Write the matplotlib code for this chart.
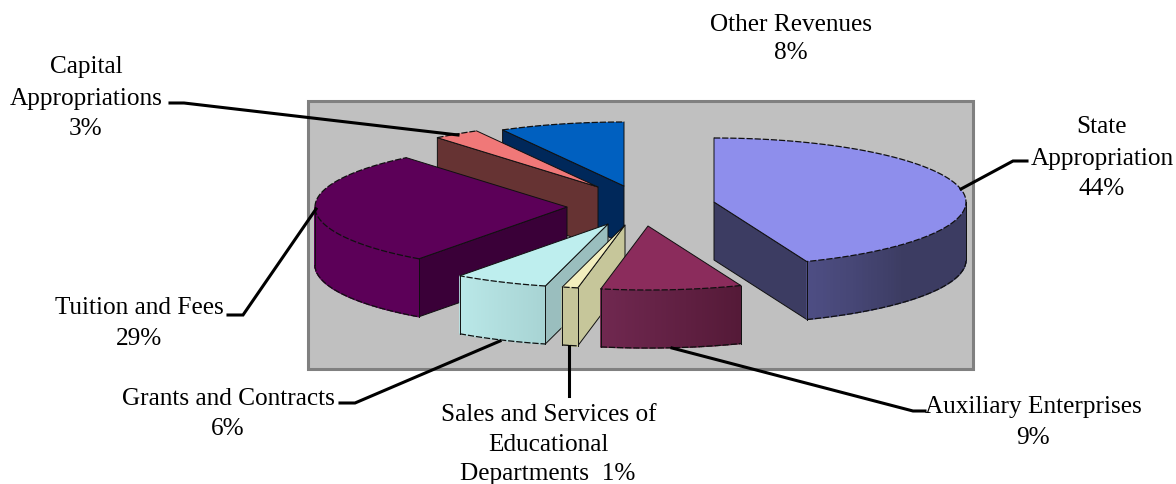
import numpy as np
import matplotlib
matplotlib.use('Agg')
import matplotlib.pyplot as plt
from matplotlib.patches import Polygon, Rectangle
from matplotlib.colors import to_rgb

plt.rcParams['font.family'] = ['Liberation Serif', 'DejaVu Serif']

# share of revenue in percent, clockwise from 12 o'clock
names = ['State Appropriation', 'Auxiliary Enterprises', 'Sales and Services', 'Grants and Contracts',
         'Tuition and Fees', 'Capital Appropriations', 'Other Revenues']
values = [44, 9, 1, 6, 29, 3, 8]

# where each exploded slice has its tip, in pixels
tips = [(714, 203), (648, 227), (625, 226), (608, 225), (567, 208), (598, 188), (624, 187)]

top_colors = ['#8E8EEC', '#8B2C5C', '#F2EEBE', '#BEEEEE', '#5C0058', '#F07878', '#0060C0']
side_colors = ['#3C3C62', '#551A38', '#C6C69A', '#9ABEBE', '#3A0038', '#663333', '#00285A']
arc_start = ['#4E4E84', '#702850', '#C6C69A', '#BAE8E8', '#5C0058', '#663333', '#00285A']
arc_end = ['#3C3C62', '#551A38', '#C6C69A', '#A8D4D4', '#5C0058', '#663333', '#00285A']

# back to front
draw_order = [6, 5, 4, 3, 2, 1, 0]

rx, ry, depth = 252, 64, 58

text_labels = [
    (791, 25, 'Other Revenues'), (791, 53, '8%'),
    (86, 67, 'Capital'), (86, 99, 'Appropriations'), (85, 129, '3%'),
    (1102, 127, 'State'), (1102, 159, 'Appropriation'), (1102, 189, '44%'),
    (139, 308, 'Tuition and Fees'), (139, 339, '29%'),
    (228, 399, 'Grants and Contracts'), (228, 429, '6%'),
    (549, 415, 'Sales and Services of'), (548, 445, 'Educational'), (548, 474, 'Departments  1%'),
    (1033, 407, 'Auxiliary Enterprises'), (1033, 438, '9%'),
]

leaders = [
    [(170, 104), (184, 104), (458, 136)],
    [(961, 190), (1013, 162), (1027, 162)],
    [(316, 210), (243, 316), (228, 316)],
    [(500, 342), (355, 404), (340, 404)],
    [(569, 347), (569, 397)],
    [(672, 349), (913, 412), (925, 412)],
]

fig = plt.figure(figsize=(11.76, 4.85), dpi=100)
ax = fig.add_axes([0, 0, 1, 1])
ax.set_xlim(0, 1176)
ax.set_ylim(485, 0)
ax.axis('off')

ax.add_patch(Rectangle((308, 102), 665, 268, facecolor='#C0C0C0', edgecolor='#808080', lw=2.2))


def arc_points(tip, a0, a1, n=80):
    t = np.radians(np.linspace(a0, a1, n))
    return tip[0] + rx * np.sin(t), tip[1] - ry * np.cos(t)


def radial_face(tip, angle, color):
    x, y = arc_points(tip, angle, angle, 1)
    pts = [tip, (x[0], y[0]), (x[0], y[0] + depth), (tip[0], tip[1] + depth)]
    ax.add_patch(Polygon(pts, facecolor=color, edgecolor='#101010', lw=0.7))


angles = np.concatenate([[0], np.cumsum(values) * 3.6])

for i in draw_order:
    a0, a1 = angles[i], angles[i + 1]
    tip = tips[i]
    # only the cut faces turned towards the viewer
    if np.sin(np.radians(a0)) < -1e-6:
        radial_face(tip, a0, side_colors[i])
    if np.sin(np.radians(a1)) > 1e-6:
        radial_face(tip, a1, side_colors[i])

    # outer wall is only seen on the front half of the ellipse
    f0, f1 = max(a0, 90), min(a1, 270)
    if f0 < f1:
        x, y = arc_points(tip, f0, f1)
        c0, c1 = np.array(to_rgb(arc_start[i])), np.array(to_rgb(arc_end[i]))
        order = np.argsort(x)
        xs, ys = x[order], y[order]
        for k in range(len(xs) - 1):
            f = k / (len(xs) - 2)
            # gradient runs left to right, settles early on the big slice
            f = min(1, f * 2.5) if i == 0 else f
            col = c0 + (c1 - c0) * f
            pts = [(xs[k], ys[k]), (xs[k + 1], ys[k + 1]), (xs[k + 1], ys[k + 1] + depth), (xs[k], ys[k] + depth)]
            ax.add_patch(Polygon(pts, facecolor=col, edgecolor=col, lw=1.0))
        ax.plot(xs, ys + depth, color='#101010', lw=0.9, ls=(0, (5, 1.5)))
        ax.plot([xs[0], xs[0]], [ys[0], ys[0] + depth], color='#101010', lw=0.7)
        ax.plot([xs[-1], xs[-1]], [ys[-1], ys[-1] + depth], color='#101010', lw=0.7)

    x, y = arc_points(tip, a0, a1)
    pts = [tip] + list(zip(x, y))
    ax.add_patch(Polygon(pts, facecolor=top_colors[i], edgecolor='none'))
    ax.plot(x, y, color='#101010', lw=0.9, ls=(0, (5, 1.5)))
    ax.plot([x[0], tip[0], x[-1]], [y[0], tip[1], y[-1]], color='#101010', lw=0.7)

for line in leaders:
    ax.plot([p[0] for p in line], [p[1] for p in line], color='black', lw=2.2, solid_joinstyle='miter')

for x, y, s in text_labels:
    ax.text(x, y, s, ha='center', va='center', fontsize=18.2, color='black')

fig.savefig('out.png', dpi=100)
